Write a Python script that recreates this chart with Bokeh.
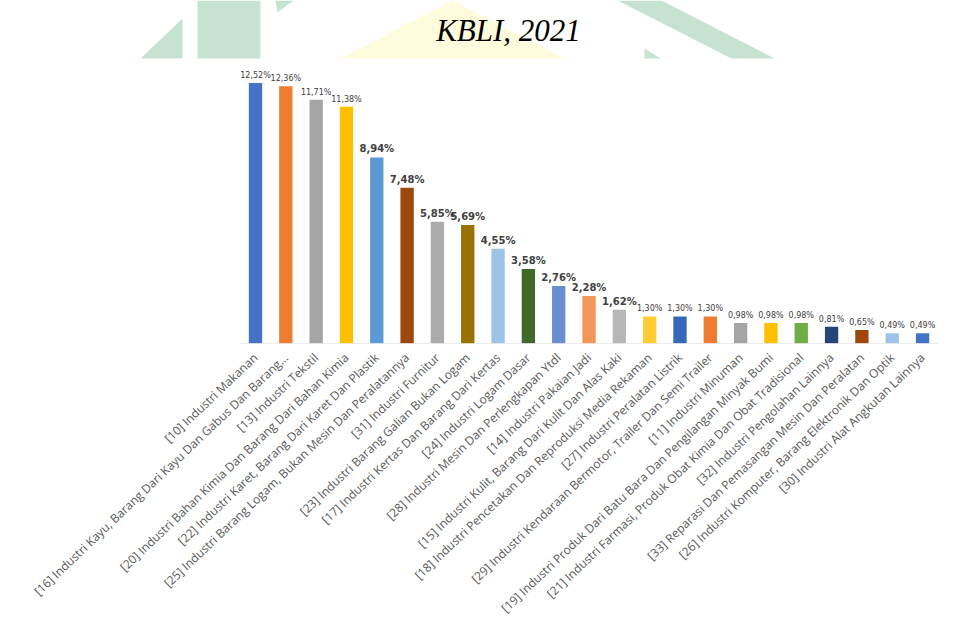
from bokeh.plotting import figure
from bokeh.models import ColumnDataSource, Range1d, FixedTicker, LinearAxis
from bokeh.core.properties import value
from bokeh.embed import file_html
from bokeh.resources import INLINE

# ---------------- data ----------------
title_text = "KBLI, 2021"

categories = [
    "[10] Industri Makanan",
    "[16] Industri Kayu, Barang Dari Kayu Dan Gabus Dan Barang...",
    "[13] Industri Tekstil",
    "[20] Industri Bahan Kimia Dan Barang Dari Bahan Kimia",
    "[22] Industri Karet, Barang Dari Karet Dan Plastik",
    "[25] Industri Barang Logam, Bukan Mesin Dan Peralatannya",
    "[31] Industri Furnitur",
    "[23] Industri Barang Galian Bukan Logam",
    "[17] Industri Kertas Dan Barang Dari Kertas",
    "[24] Industri Logam Dasar",
    "[28] Industri Mesin Dan Perlengkapan Ytdl",
    "[14] Industri Pakaian Jadi",
    "[15] Industri Kulit, Barang Dari Kulit Dan Alas Kaki",
    "[18] Industri Pencetakan Dan Reproduksi Media Rekaman",
    "[27] Industri Peralatan Listrik",
    "[29] Industri Kendaraan Bermotor, Trailer Dan Semi Trailer",
    "[11] Industri Minuman",
    "[19] Industri Produk Dari Batu Bara Dan Pengilangan Minyak Bumi",
    "[21] Industri Farmasi, Produk Obat Kimia Dan Obat Tradisional",
    "[32] Industri Pengolahan Lainnya",
    "[33] Reparasi Dan Pemasangan Mesin Dan Peralatan",
    "[26] Industri Komputer, Barang Elektronik Dan Optik",
    "[30] Industri Alat Angkutan Lainnya",
]

shares = [12.52, 12.36, 11.71, 11.38, 8.94, 7.48, 5.85, 5.69, 4.55, 3.58,
          2.76, 2.28, 1.62, 1.30, 1.30, 1.30, 0.98, 0.98, 0.98, 0.81,
          0.65, 0.49, 0.49]

# which value labels are shown in bold (as in the picture)
bold_label = [False, False, False, False, True, True, True, True, True, True,
              True, True, True, False, False, False, False, False, False, False,
              False, False, False]

bar_colors = ["#4472C4", "#ED7D31", "#A5A5A5", "#FFC000", "#5B9BD5", "#9E480E",
              "#ABABAB", "#997300", "#9DC3E6", "#43682B", "#698ED0", "#F1975A",
              "#B7B7B7", "#FFCD33", "#3767B8", "#ED7D31", "#A5A5A5", "#FFC000",
              "#70AD47", "#264478", "#9E480E", "#9DC3E6", "#4472C4"]

labels = [("%.2f" % v).replace(".", ",") + "%" for v in shares]

# ---------------- layout constants (pixels) ----------------
W, H = 954, 632
FRAME_H = 343          # frame from canvas top down to the category axis
FIRST_CENTER = 255.0   # pixel x of first bar centre
STEP = 30.32           # pixel distance between bars
PX_PER_UNIT = 20.81    # pixels per percentage point

n = len(categories)
idx = list(range(n))

x_start = -FIRST_CENTER / STEP
x_end = (W - FIRST_CENTER) / STEP
y_end = FRAME_H / PX_PER_UNIT

p = figure(width=W, height=H, output_backend="svg", toolbar_location=None,
           x_range=Range1d(x_start, x_end), y_range=Range1d(0, y_end),
           min_border_left=0, min_border_right=0,
           min_border_top=0, min_border_bottom=H - FRAME_H,
           outline_line_color=None, x_axis_location=None,
           y_axis_location=None)
p.background_fill_color = "white"
p.border_fill_color = "white"
p.grid.visible = False

# pixel-space ranges for the header decoration and title
p.extra_x_ranges = {"px": Range1d(0, W)}
p.extra_y_ranges = {"px": Range1d(FRAME_H, 0)}

green = "#C6E2D0"
wm_xs = [[140, 182, 182], [197, 260, 260, 197], [275, 293, 277],
         [617, 661, 774, 731], [644, 660, 644]]
wm_ys = [[58, 18, 58], [0, 0, 58, 58], [0, 0, 12],
         [0, 0, 58, 58], [48, 58, 58]]
p.patch(x=[340, 452, 564], y=[58, 0, 58], fill_color="#FFFBDD",
        line_color=None, x_range_name="px", y_range_name="px")
p.patches(xs=wm_xs, ys=wm_ys, fill_color=green, line_color=None,
          x_range_name="px", y_range_name="px")

p.text(x=[508], y=[30], text=[title_text], text_align="center",
       text_baseline="middle", text_font=value("Liberation Serif"),
       text_font_style="italic", text_font_size="31px",
       text_color="#000000", x_range_name="px", y_range_name="px")

# ---------------- bars ----------------
src = ColumnDataSource(dict(x=idx, val=shares, color=bar_colors, lab=labels))
src_b = ColumnDataSource(dict(
    x=[i for i, b in zip(idx, bold_label) if b],
    val=[v for v, b in zip(shares, bold_label) if b],
    lab=[l for l, b in zip(labels, bold_label) if b]))
src_n = ColumnDataSource(dict(
    x=[i for i, b in zip(idx, bold_label) if not b],
    val=[v for v, b in zip(shares, bold_label) if not b],
    lab=[l for l, b in zip(labels, bold_label) if not b]))

p.vbar(x="x", top="val", width=0.44, source=src, fill_color="color",
       line_color=None)

# baseline spanning the categories
p.line(x=[-0.5, n - 0.5], y=[0, 0], line_color="#D9D9D9", line_width=1)

p.text(x="x", y="val", text="lab", source=src_b, text_align="center",
       text_baseline="bottom", y_offset=-3,
       text_font=value("DejaVu Sans"), text_font_style="bold",
       text_font_size="10px", text_color="#404040")
p.text(x="x", y="val", text="lab", source=src_n, text_align="center",
       text_baseline="bottom", y_offset=-3,
       text_font=value("DejaVu Sans"), text_font_size="8px",
       text_color="#404040")

# ---------------- category axis ----------------
xa = LinearAxis(ticker=FixedTicker(ticks=idx),
                major_label_overrides={i: c for i, c in zip(idx, categories)})
xa.axis_line_color = None
xa.major_tick_line_color = None
xa.minor_tick_line_color = None
xa.major_label_orientation = 0.76
xa.major_label_text_font = "Open Sans"
xa.major_label_text_font_size = "12px"
xa.major_label_text_color = "#595959"
xa.major_label_standoff = 6
p.add_layout(xa, "below")

open("out.html", "w").write(file_html(p, INLINE))
